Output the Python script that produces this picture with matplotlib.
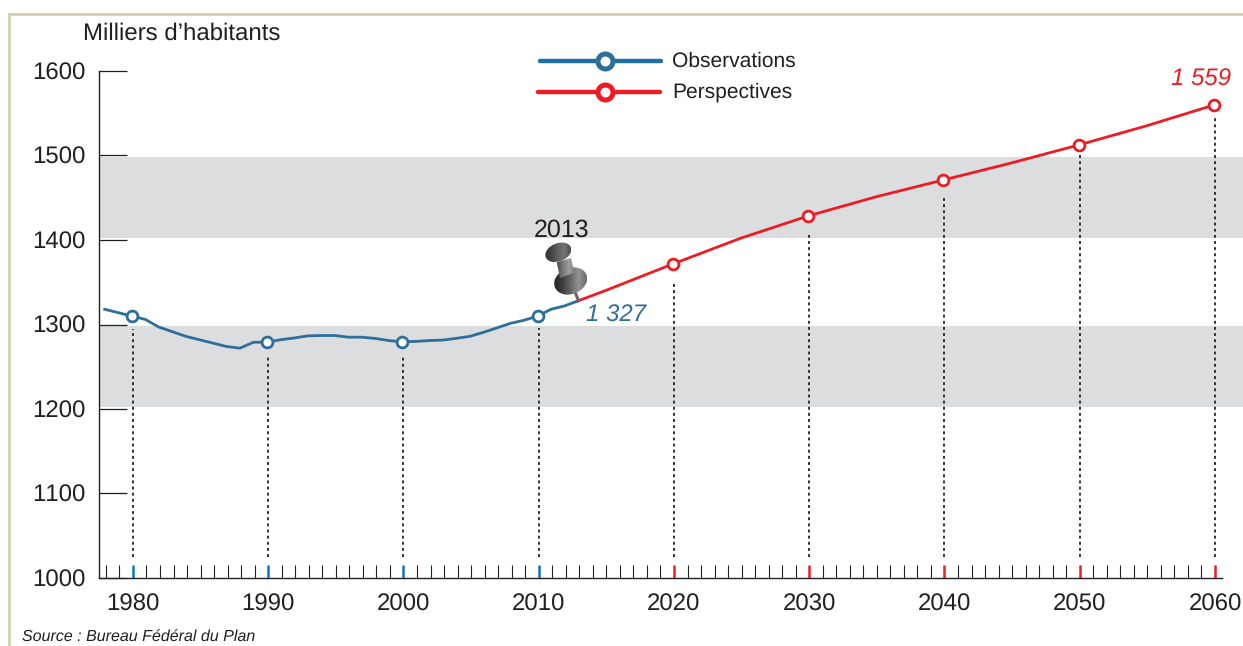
import matplotlib
matplotlib.use('Agg')
import matplotlib.pyplot as plt
from matplotlib.patches import Ellipse, Polygon, Rectangle
from matplotlib.transforms import ScaledTranslation
import numpy as np

plt.rcParams['font.family'] = ['Liberation Sans', 'DejaVu Sans']
plt.rcParams['text.kerning_factor'] = 6
plt.rcParams['text.hinting'] = 'no_hinting'
plt.rcParams['text.hinting_factor'] = 1

obs_years = list(range(1978, 2014))
obs_values = [1318, 1314, 1310, 1306, 1297, 1291.5, 1286, 1282, 1278, 1274, 1272, 1279,
              1279, 1282, 1284, 1286.5, 1287, 1287, 1285, 1285, 1283.5, 1281, 1279.5,
              1280, 1281, 1281.6, 1283.6, 1286, 1290.7, 1296, 1301.4, 1305, 1310, 1318, 1322, 1328]
proj_years = [2013, 2015, 2020, 2025, 2030, 2035, 2040, 2045, 2050, 2055, 2060]
proj_values = [1328, 1340, 1371.6, 1402, 1428.4, 1451, 1471, 1491, 1512.4, 1535, 1559.7]

obs_marker_years = [1980, 1990, 2000, 2010]
obs_marker_values = [1310, 1279, 1279.5, 1310]
proj_marker_years = [2020, 2030, 2040, 2050, 2060]
proj_marker_values = [1371.6, 1428.4, 1471, 1512.4, 1559.7]

# top of the dotted drop lines, they stop short of the markers
obs_drop_tops = [1295, 1264, 1264, 1296]
proj_drop_tops = [1351, 1409, 1453, 1500, 1544]
drop_bottom = 1025

bands = [(1202, 1298), (1402, 1498)]
y_ticks = [1000, 1100, 1200, 1300, 1400, 1500, 1600]

BLUE = '#2e6e9b'
TICK_BLUE = '#0f75bc'
LEGEND_BLUE = '#1f6fa5'
RED = '#ed1c24'
TEXT = '#231f20'
GREY = '#dcddde'
BORDER = '#d6d3b4'

W, H = 1243, 646
fig = plt.figure(figsize=(W / 100, H / 100), dpi=100)
ax = fig.add_axes([99 / W, 1 - 578 / H, 1 - 99 / W, (578 - 71) / H])
ax.set_xlim(1977.49, 2062.07)
ax.set_ylim(1000, 1600)

for low, high in bands:
    ax.axhspan(low, high, color=GREY, lw=0, zorder=0)

# markers sit a hair left of their ticks in the original
shift = ax.transData + ScaledTranslation(-1.2 / 100, 0, fig.dpi_scale_trans)

ax.vlines(obs_marker_years, drop_bottom, obs_drop_tops, color='#222222', lw=1.3,
          linestyles=(0, (1.6, 1.8)), zorder=1)
ax.vlines(proj_marker_years, drop_bottom, proj_drop_tops, color='#222222', lw=1.3,
          linestyles=(0, (1.6, 1.8)), zorder=1)

ax.plot(obs_years, obs_values, color=BLUE, lw=2, transform=shift, zorder=3)
ax.plot(proj_years, proj_values, color=RED, lw=2, transform=shift, zorder=3)
ax.plot(obs_marker_years, obs_marker_values, ls='none', marker='o', ms=7.8, mew=2,
        mfc='white', mec=BLUE, transform=shift, zorder=4)
ax.plot(proj_marker_years, proj_marker_values, ls='none', marker='o', ms=7.8, mew=2,
        mfc='white', mec=RED, transform=shift, zorder=4)

for side in ['top', 'right']:
    ax.spines[side].set_visible(False)
ax.spines['left'].set_color(TEXT)
ax.spines['bottom'].set_color(TEXT)
ax.spines['left'].set_linewidth(1)
ax.spines['bottom'].set_linewidth(1)
ax.spines['bottom'].set_bounds(1977.49, 2060.5)

ax.set_yticks(y_ticks)
ax.tick_params(axis='y', direction='in', length=20, width=0.9, color=TEXT, pad=10,
               labelsize=17, labelcolor=TEXT)

major_years = obs_marker_years + proj_marker_years
ax.set_xticks(major_years)
ax.set_xticks(range(1978, 2061), minor=True)
ax.tick_params(axis='x', which='major', direction='in', length=9.5, width=1.8, pad=11,
               labelsize=17, labelcolor=TEXT)
ax.tick_params(axis='x', which='minor', direction='in', length=9.5, width=0.8, color=TEXT)
for tick, year in zip(ax.xaxis.get_major_ticks(), major_years):
    tick.tick1line.set_markeredgecolor(TICK_BLUE if year <= 2010 else RED)

ax.text(2011.7, 1411, '2013', fontsize=17.7, color=TEXT, ha='center', va='center')
ax.text(2015.75, 1310.8, '1 327', fontsize=17, color=BLUE, style='italic', ha='center', va='center')
ax.text(2059, 1590, '1 559', fontsize=17, color=RED, style='italic', ha='center', va='center')

# overlay in pixel coordinates for the frame, legend, notes and the pin
ov = fig.add_axes([0, 0, 1, 1], zorder=5)
ov.set_xlim(0, W)
ov.set_ylim(H, 0)
ov.axis('off')
ov.patch.set_alpha(0)

ov.add_patch(Rectangle((8, 12.5), W, 3, color=BORDER, lw=0))
ov.add_patch(Rectangle((8, 12.5), 3, H, color=BORDER, lw=0))

ov.text(83, 34, 'Milliers d\u2019habitants', fontsize=17.3, color=TEXT, va='center')
ov.text(22, 637, 'Source : Bureau F\u00e9d\u00e9ral du Plan', fontsize=11.6, color=TEXT,
        style='italic', va='center')

for label, line_col, mark_col, y0, x0, x1 in [('Observations', LEGEND_BLUE, BLUE, 61, 540, 661),
                                              ('Perspectives', RED, RED, 92, 538.5, 660)]:
    ov.plot([x0, x1], [y0, y0], color=line_col, lw=3.2, solid_capstyle='round')
    ov.plot([605.5], [y0], ls='none', marker='o', ms=10.8, mew=3.6, mfc='white', mec=mark_col)
    ov.text(672.5, y0, label, fontsize=15.4, color=TEXT, va='center')


def shaded(patch, stops):
    # fill a patch with a left to right grey gradient
    ov.add_patch(patch)
    x0, y0, x1, y1 = patch.get_window_extent().transformed(ov.transData.inverted()).extents
    cols = np.interp(np.linspace(0, 1, 64), np.linspace(0, 1, len(stops)), stops).reshape(1, -1)
    im = ov.imshow(cols, cmap='gray', vmin=0, vmax=1, aspect='auto',
                   extent=(x0, x1, y1, y0), zorder=patch.get_zorder())
    im.set_clip_path(patch)
    ov.set_xlim(0, W)
    ov.set_ylim(H, 0)


ov.plot([574.3, 579], [290, 302], color='#666666', lw=2.2, solid_capstyle='butt', zorder=6)
shaded(Ellipse((570.7, 281), 34, 26, angle=-22, fc='none', ec='none', zorder=7),
       [0.14, 0.24, 0.4, 0.58, 0.42])
shaded(Polygon([(556.7, 262.3), (571, 258), (574.3, 272.7), (560, 278)], closed=True,
               fc='none', ec='none', zorder=8), [0.3, 0.48, 0.62, 0.5])
shaded(Ellipse((558.3, 252.3), 27, 18, angle=-22, fc='none', ec='none', zorder=9),
       [0.2, 0.27, 0.38, 0.45, 0.3])

fig.savefig('out.png', dpi=100)
